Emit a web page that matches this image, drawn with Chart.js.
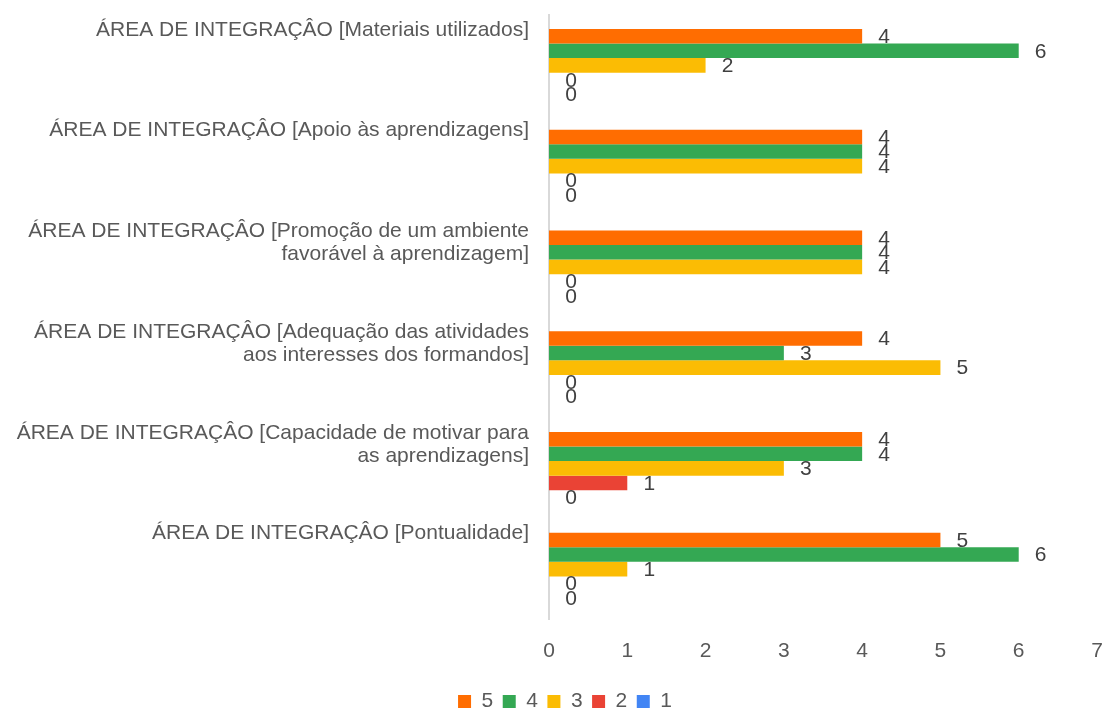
<!DOCTYPE html>
<html>
<head>
<meta charset="utf-8">
<script src="https://cdn.jsdelivr.net/npm/chart.js@4/dist/chart.umd.min.js"></script>
<style>
  html, body { margin: 0; padding: 0; background: #fff; }
  #wrap { width: 1106px; height: 711px; position: relative; }
</style>
</head>
<body>
<div id="wrap"><canvas id="ratingsChart"></canvas></div>
<script>
// every label gets two lines so that the first line sits at the top of its group
const categories = [
    ['ÁREA DE INTEGRAÇÂO [Materiais utilizados]', ''],
    ['ÁREA DE INTEGRAÇÂO [Apoio às aprendizagens]', ''],
    ['ÁREA DE INTEGRAÇÂO [Promoção de um ambiente', 'favorável à aprendizagem]'],
    ['ÁREA DE INTEGRAÇÂO [Adequação das atividades', 'aos interesses dos formandos]'],
    ['ÁREA DE INTEGRAÇÂO [Capacidade de motivar para', 'as aprendizagens]'],
    ['ÁREA DE INTEGRAÇÂO [Pontualidade]', '']
];
const seriesNames = ['5', '4', '3', '2', '1'];
const score5 = [4, 4, 4, 4, 4, 5];
const score4 = [6, 4, 4, 3, 4, 6];
const score3 = [2, 4, 4, 5, 3, 1];
const score2 = [0, 0, 0, 0, 1, 0];
const score1 = [0, 0, 0, 0, 0, 0];
const xTicks = [0, 1, 2, 3, 4, 5, 6, 7];

const colors = ['#ff6d01', '#34a853', '#fbbc04', '#ea4335', '#4285f4'];
const allSeries = [score5, score4, score3, score2, score1];
const FONT = '"Liberation Sans", Arial, sans-serif';

// value labels to the right of each bar
const barLabels = {
    id: 'barLabels',
    afterDatasetsDraw(chart) {
        const ctx = chart.ctx;
        const xScale = chart.scales.x;
        ctx.save();
        ctx.font = '21px ' + FONT;
        ctx.fillStyle = '#404040';
        ctx.textAlign = 'center';
        ctx.textBaseline = 'middle';
        chart.data.datasets.forEach((ds, i) => {
            const meta = chart.getDatasetMeta(i);
            meta.data.forEach((bar, j) => {
                const v = ds.data[j];
                const x = xScale.getPixelForValue(v) + 22;
                ctx.fillText(String(v), x, bar.y + 1);
            });
        });
        ctx.restore();
    }
};

// legend in the original sits a bit right of the canvas centre
const shiftLegend = {
    id: 'shiftLegend',
    afterLayout(chart) {
        if (chart.legend) chart.legend.left += 24;
    }
};

const ctx = document.getElementById('ratingsChart').getContext('2d');
const ratingsChart = new Chart(ctx, {
    type: 'bar',
    data: {
        labels: categories,
        datasets: allSeries.map((vals, i) => ({
            label: seriesNames[i],
            data: vals,
            backgroundColor: colors[i],
            borderWidth: 0,
            categoryPercentage: 0.72,
            barPercentage: 1.0
        }))
    },
    options: {
        indexAxis: 'y',
        responsive: true,
        maintainAspectRatio: false,
        animation: false,
        layout: {
            padding: { top: 15, right: 0, bottom: -11, left: 0 }
        },
        plugins: {
            legend: {
                position: 'bottom',
                labels: {
                    boxWidth: 13,
                    boxHeight: 13,
                    padding: 9.5,
                    color: '#595959',
                    font: { size: 21, family: FONT }
                }
            },
            tooltip: { enabled: false }
        },
        scales: {
            x: {
                min: 0,
                max: 7,
                afterBuildTicks: scale => {
                    scale.ticks = xTicks.map(v => ({ value: v }));
                },
                afterFit: scale => {
                    scale.height = 62;
                    scale.paddingLeft = 0;
                    scale.paddingRight = 9;
                },
                grid: { display: false },
                border: { display: false },
                ticks: {
                    color: '#595959',
                    padding: 11,
                    font: { size: 21, family: FONT }
                }
            },
            y: {
                grid: { display: false },
                border: { display: true, color: '#d9d9d9', width: 2 },
                afterFit: scale => {
                    scale.width = 549;
                    scale.paddingTop = 0;
                    scale.paddingBottom = 0;
                },
                ticks: {
                    color: '#595959',
                    padding: 12,
                    labelOffset: -24,
                    font: { size: 21, family: FONT, lineHeight: '23px' }
                }
            }
        }
    },
    plugins: [barLabels, shiftLegend]
});
</script>
</body>
</html>
